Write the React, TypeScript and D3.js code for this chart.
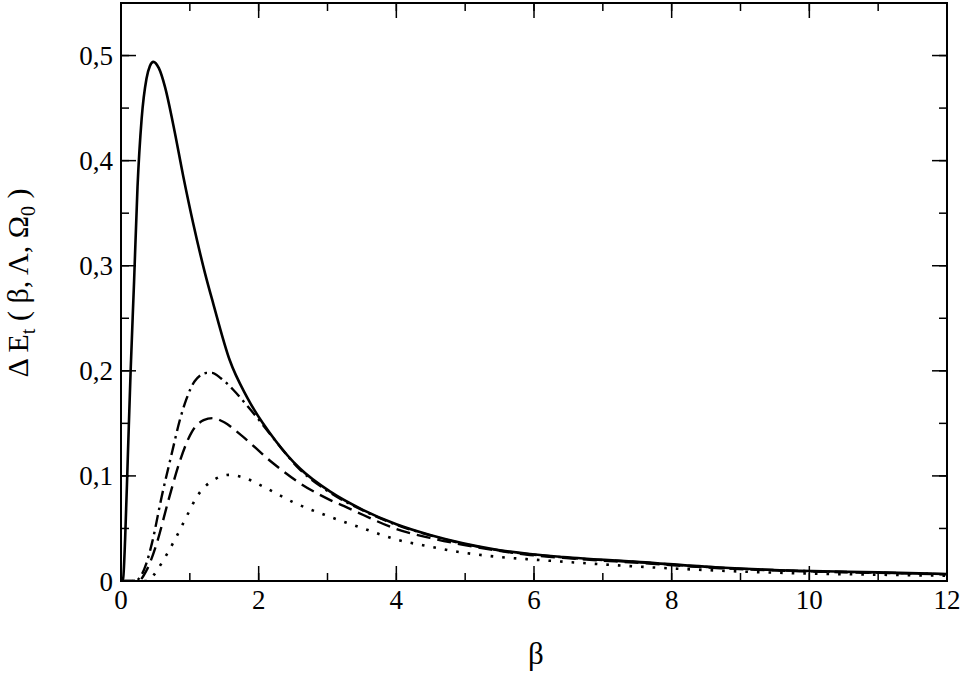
import React from "react";
import * as d3 from "d3";

const xTicks = [0, 2, 4, 6, 8, 10, 12];
const yTicks = [0, 0.1, 0.2, 0.3, 0.4, 0.5];

const solidBeta = [0, 0.03, 0.06, 0.1, 0.14, 0.19, 0.24, 0.3, 0.37, 0.42, 0.47, 0.55, 0.64, 0.76, 0.905, 1.05, 1.22, 1.34, 1.58, 1.83, 2.24, 2.6, 3.04, 3.52, 4.0, 4.49, 4.97, 5.46, 5.94, 6.42, 7.54, 8.7, 9.86, 11, 12];
const solidVal = [0, 0.002, 0.04, 0.12, 0.2, 0.285, 0.375, 0.44, 0.478, 0.49, 0.494, 0.488, 0.47, 0.434, 0.385, 0.34, 0.293, 0.264, 0.21, 0.175, 0.134, 0.107, 0.085, 0.0675, 0.054, 0.0438, 0.0359, 0.0298, 0.0257, 0.0228, 0.018, 0.0128, 0.0098, 0.0082, 0.0067];

const dashDotBeta = [0, 0.2, 0.3, 0.37, 0.45, 0.59, 0.74, 0.85, 0.95, 1.07, 1.25, 1.32, 1.45, 1.63, 1.83, 1.97, 2.2, 2.6, 3.04, 3.52, 4.0, 4.49, 4.97, 5.46, 5.94, 6.42, 7.54, 8.7, 9.86, 11, 12];
const dashDotVal = [0, 0, 0.006, 0.017, 0.036, 0.08, 0.122, 0.152, 0.173, 0.19, 0.198, 0.198, 0.193, 0.182, 0.167, 0.156, 0.137, 0.106, 0.084, 0.067, 0.0535, 0.0435, 0.0355, 0.0295, 0.0254, 0.0225, 0.0178, 0.0126, 0.0096, 0.008, 0.0065];

const dashedBeta = [0, 0.25, 0.37, 0.52, 0.69, 0.86, 1.03, 1.2, 1.33, 1.5, 1.74, 2.21, 2.6, 3.04, 3.28, 3.52, 4.0, 4.49, 4.97, 5.46, 5.94, 6.42, 7.54, 8.7, 9.86, 11, 12];
const dashedVal = [0, 0, 0.01, 0.036, 0.077, 0.115, 0.142, 0.153, 0.155, 0.151, 0.139, 0.112, 0.093, 0.077, 0.07, 0.0628, 0.0495, 0.041, 0.0345, 0.029, 0.0248, 0.022, 0.0172, 0.0122, 0.0093, 0.0077, 0.0063];

const dottedBeta = [0, 0.38, 0.48, 0.59, 0.78, 0.95, 1.1, 1.37, 1.58, 1.8, 2.07, 2.5, 3.04, 3.52, 4.0, 4.49, 4.97, 5.46, 5.94, 6.42, 7.54, 8.7, 9.86, 11, 12];
const dottedVal = [0, 0, 0.006, 0.017, 0.039, 0.061, 0.08, 0.097, 0.101, 0.098, 0.0897, 0.075, 0.061, 0.05, 0.0395, 0.0327, 0.027, 0.0231, 0.0206, 0.0184, 0.0136, 0.0098, 0.0073, 0.006, 0.005];

const W = 964;
const H = 675;
const left = 121;
const right = 947;
const top = 3;
const bottom = 581;
const FONT = "Liberation Serif";

export default function App() {
  const x = d3.scaleLinear().domain([0, 12]).range([left, right]);
  const y = d3.scaleLinear().domain([0, 0.55]).range([bottom, top]);

  const line = d3
    .line<[number, number]>()
    .x((d) => x(d[0]))
    .y((d) => y(d[1]))
    .curve(d3.curveMonotoneX);

  const mk = (b: number[], v: number[]) => b.map((bb, i) => [bb, v[i]] as [number, number]);

  const series = [
    { data: mk(dottedBeta, dottedVal), dash: "2.6 9", w: 2.6 },
    { data: mk(dashedBeta, dashedVal), dash: "14 7", w: 2.4 },
    { data: mk(dashDotBeta, dashDotVal), dash: "12 5 2.5 5", w: 2.4 },
    { data: mk(solidBeta, solidVal), dash: null, w: 2.6 },
  ];

  const xMinor = d3.range(0, 12.001, 1);
  const yMinor = d3.range(0, 0.5501, 0.05);
  const fmt = (d: number) => (d === 0 ? "0" : d.toFixed(1).replace(".", ","));

  return (
    <svg
      width={W}
      height={H}
      style={{ position: "absolute", left: 0, top: 0, background: "#fff" }}
    >
      <defs>
        <clipPath id="plotclip">
          <rect x={left} y={top} width={right - left} height={bottom - top} />
        </clipPath>
      </defs>
      {xMinor.map((t) => (
        <g key={"xm" + t} stroke="#000" strokeWidth={1.5}>
          <line x1={x(t)} x2={x(t)} y1={bottom} y2={bottom - 8} />
          <line x1={x(t)} x2={x(t)} y1={top} y2={top + 8} />
        </g>
      ))}
      {yMinor.map((t) => (
        <g key={"ym" + t} stroke="#000" strokeWidth={1.5}>
          <line x1={left} x2={left + 8} y1={y(t)} y2={y(t)} />
          <line x1={right} x2={right - 8} y1={y(t)} y2={y(t)} />
        </g>
      ))}
      {xTicks.map((t) => (
        <g key={"xM" + t} stroke="#000" strokeWidth={1.5}>
          <line x1={x(t)} x2={x(t)} y1={bottom} y2={bottom - 15} />
          <line x1={x(t)} x2={x(t)} y1={top} y2={top + 15} />
        </g>
      ))}
      {yTicks.map((t) => (
        <g key={"yM" + t} stroke="#000" strokeWidth={1.5}>
          <line x1={left} x2={left + 15} y1={y(t)} y2={y(t)} />
          <line x1={right} x2={right - 15} y1={y(t)} y2={y(t)} />
        </g>
      ))}
      <g clipPath="url(#plotclip)">
        {series.map((s, i) => (
          <path
            key={i}
            d={line(s.data) || ""}
            fill="none"
            stroke="#000"
            strokeWidth={s.w}
            strokeDasharray={s.dash || undefined}
            strokeLinejoin="round"
          />
        ))}
      </g>
      <rect x={left} y={top} width={right - left} height={bottom - top} fill="none" stroke="#000" strokeWidth={2} />
      {xTicks.map((t) => (
        <text key={"xl" + t} x={x(t)} y={609} textAnchor="middle" fontSize={27} fill="#000" fontFamily={FONT}>
          {String(t)}
        </text>
      ))}
      {yTicks.map((t) => (
        <text key={"yl" + t} x={113} y={y(t) + 9.5} textAnchor="end" fontSize={27} fill="#000" fontFamily={FONT}>
          {fmt(t)}
        </text>
      ))}
      <text x={536} y={664} textAnchor="middle" fontSize={31} fill="#000" fontFamily={FONT}>
        β
      </text>
      <text
        transform="translate(28,283) rotate(-90)"
        textAnchor="middle"
        fontSize={30}
        fill="#000"
        fontFamily={FONT}
      >
        <tspan>Δ E</tspan>
        <tspan fontSize={20} dy={7}>t</tspan>
        <tspan dy={-7}> ( β, Λ, Ω</tspan>
        <tspan fontSize={20} dy={7}>0</tspan>
        <tspan dy={-7}> )</tspan>
      </text>
    </svg>
  );
}
